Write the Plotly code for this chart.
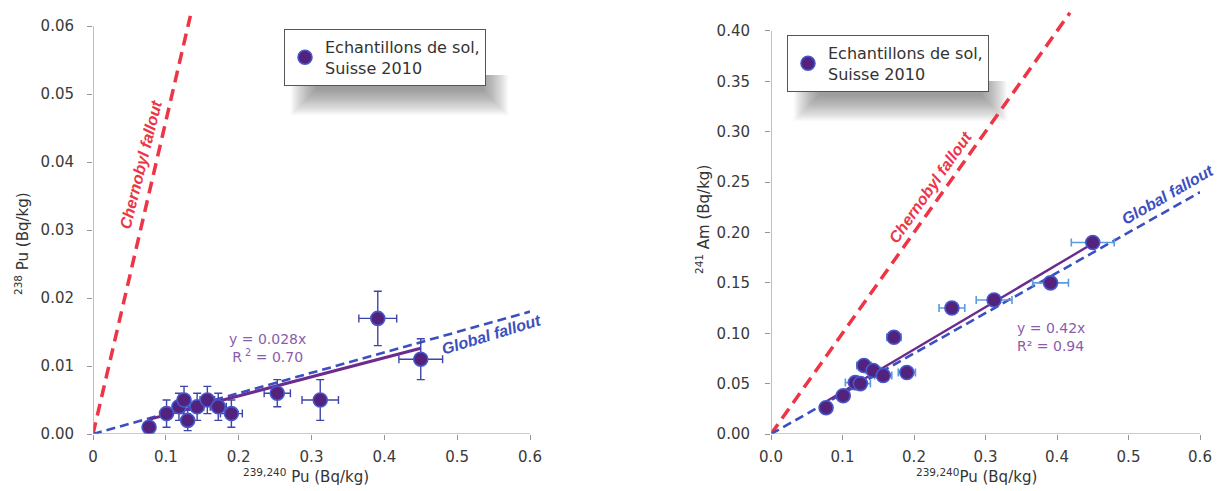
import plotly.graph_objects as go

# ---------------- data ----------------
pu239_240 = [0.077, 0.101, 0.118, 0.125, 0.130, 0.143, 0.157, 0.172, 0.190, 0.253, 0.312, 0.391, 0.450]
pu239_240_err_left = [0.004, 0.008, 0.008, 0.008, 0.008, 0.009, 0.010, 0.011, 0.015, 0.018, 0.025, 0.026, 0.030]
pu238 = [0.001, 0.003, 0.004, 0.005, 0.002, 0.004, 0.005, 0.004, 0.003, 0.006, 0.005, 0.017, 0.011]
pu238_err = [0.0004, 0.002, 0.002, 0.002, 0.0015, 0.002, 0.002, 0.002, 0.002, 0.002, 0.003, 0.004, 0.003]
am241 = [0.026, 0.038, 0.051, 0.050, 0.068, 0.063, 0.058, 0.096, 0.061, 0.125, 0.133, 0.150, 0.190]
pu239_240_err_right = [0.004, 0.008, 0.014, 0.014, 0.010, 0.010, 0.012, 0.010, 0.012, 0.018, 0.025, 0.025, 0.030]

fit_pu238_slope = 0.028
fit_am241_slope = 0.42
chernobyl_pu238_ratio = 0.46
global_pu238_ratio = 0.03
chernobyl_am241_ratio = 1.0
global_am241_ratio = 0.40

left_x_ticks = [0, 0.1, 0.2, 0.3, 0.4, 0.5, 0.6]
left_x_labels = ["0", "0.1", "0.2", "0.3", "0.4", "0.5", "0.6"]
right_x_labels = ["0.0", "0.1", "0.2", "0.3", "0.4", "0.5", "0.6"]
left_y_ticks = [0, 0.01, 0.02, 0.03, 0.04, 0.05, 0.06]
right_y_ticks = [0, 0.05, 0.10, 0.15, 0.20, 0.25, 0.30, 0.35, 0.40]

legend_text = "Echantillons de sol,<br>Suisse 2010"

# ---------------- styles ----------------
W, H = 1227, 491
RED = "#ee3546"
BLUE = "#3c4fc0"
FIT = "#6b2c8e"
EQ = "#8b5cae"
AXIS = "#a48ca0"
TICKF = dict(family="DejaVu Sans", size=15, color="#3a3a3a")
MARK = dict(size=14, color="#52227c", line=dict(color="#4659cc", width=1.6))

fig = go.Figure()

xmin, xmax = min(pu239_240), max(pu239_240)

# ---- left panel ----
cx = chernobyl_pu238_ratio
fig.add_trace(go.Scatter(x=[0, 0.0615 / cx], y=[0, 0.0615], mode="lines",
                         line=dict(color=RED, width=3.5, dash="12px,7px"),
                         showlegend=False, xaxis="x", yaxis="y", hoverinfo="skip"))
fig.add_trace(go.Scatter(x=[0, 0.6], y=[0, 0.6 * global_pu238_ratio], mode="lines",
                         line=dict(color=BLUE, width=2.6, dash="9px,5px"),
                         showlegend=False, xaxis="x", yaxis="y", hoverinfo="skip"))
fig.add_trace(go.Scatter(x=[xmin, xmax], y=[xmin * fit_pu238_slope, xmax * fit_pu238_slope], mode="lines",
                         line=dict(color=FIT, width=3), showlegend=False, xaxis="x", yaxis="y"))
fig.add_trace(go.Scatter(x=pu239_240, y=pu238, mode="markers", name=legend_text,
                         marker=MARK, legend="legend",
                         error_x=dict(type="data", array=pu239_240_err_left, color="#3f45a8", thickness=1.4, width=4),
                         error_y=dict(type="data", array=pu238_err, color="#3f45a8", thickness=1.4, width=4),
                         xaxis="x", yaxis="y"))

# ---- right panel ----
fig.add_trace(go.Scatter(x=[0, 0.418 / chernobyl_am241_ratio], y=[0, 0.418], mode="lines",
                         line=dict(color=RED, width=3.5, dash="12px,7px"),
                         showlegend=False, xaxis="x2", yaxis="y2", hoverinfo="skip"))
fig.add_trace(go.Scatter(x=[0, 0.6], y=[0, 0.6 * global_am241_ratio], mode="lines",
                         line=dict(color=BLUE, width=2.6, dash="9px,5px"),
                         showlegend=False, xaxis="x2", yaxis="y2", hoverinfo="skip"))
fig.add_trace(go.Scatter(x=[xmin, xmax], y=[xmin * fit_am241_slope, xmax * fit_am241_slope], mode="lines",
                         line=dict(color=FIT, width=2.4), showlegend=False, xaxis="x2", yaxis="y2"))
fig.add_trace(go.Scatter(x=pu239_240, y=am241, mode="markers", name=legend_text,
                         marker=MARK, legend="legend2",
                         error_x=dict(type="data", array=pu239_240_err_right, color="#5b9be0", thickness=1.6, width=4),
                         xaxis="x2", yaxis="y2"))

def px(xp):
    return xp / W

def py(yp):
    return 1 - yp / H

axis_common = dict(showgrid=False, zeroline=False, showline=False, ticks="outside", ticklen=5,
                   tickcolor=AXIS, tickwidth=1, tickfont=TICKF, automargin=False)

LEGF = dict(family="DejaVu Sans", size=16, color="#333")
fig.update_layout(
    width=W, height=H, margin=dict(l=0, r=0, t=0, b=0, autoexpand=False),
    paper_bgcolor="white", plot_bgcolor="rgba(0,0,0,0)",
    xaxis=dict(domain=[px(93), px(530)], range=[0, 0.6], tickvals=left_x_ticks, ticktext=left_x_labels,
               anchor="y", ticklabelstandoff=4, **axis_common),
    yaxis=dict(domain=[py(434), py(9)], range=[0, 0.0625], tickvals=left_y_ticks, tickformat=".2f",
               anchor="x", ticklabelstandoff=10, **axis_common),
    xaxis2=dict(domain=[px(771), px(1200)], range=[0, 0.6], tickvals=left_x_ticks, ticktext=right_x_labels,
                anchor="y2", ticklabelstandoff=4, **axis_common),
    yaxis2=dict(domain=[py(434), py(5.8)], range=[0, 0.425], tickvals=right_y_ticks, tickformat=".2f",
                anchor="x2", ticklabelstandoff=12, **axis_common),
    legend=dict(x=px(284), y=py(29), xanchor="left", yanchor="top", bgcolor="white",
                bordercolor="#555", borderwidth=1, font=LEGF),
    legend2=dict(x=px(787), y=py(35), xanchor="left", yanchor="top", bgcolor="white",
                 bordercolor="#555", borderwidth=1, font=LEGF),
)

shapes = []
# axis lines limited to tick extent
for xa, ya, xt, yt in [("x", "y", left_x_ticks, left_y_ticks), ("x2", "y2", left_x_ticks, right_y_ticks)]:
    shapes.append(dict(type="line", xref=xa, yref=ya, x0=0, x1=0, y0=0, y1=yt[-1],
                       line=dict(color=AXIS, width=1.2)))
    shapes.append(dict(type="line", xref=xa, yref=ya, x0=0, x1=xt[-1], y0=0, y1=0,
                       line=dict(color=AXIS, width=1.2)))

# soft drop shadows under the legend boxes
for (L, T, R, B) in [(284, 29, 487, 87), (787, 35, 986, 93)]:
    for k in range(24):
        g = k * 1.1
        shapes.append(dict(type="rect", xref="paper", yref="paper", layer="below",
                           x0=px(L + 32 - g), x1=px(R - 4 + g), y0=py(B - 12), y1=py(B + 3 + g),
                           fillcolor="rgba(60,60,60,0.026)", line=dict(width=0)))
fig.update_layout(shapes=shapes)

LBL = dict(family="Liberation Sans", size=16, color=RED)
BLBL = dict(family="Liberation Sans", size=16, color=BLUE)
TITF = dict(family="DejaVu Sans", size=15, color="#333")
C = dict(showarrow=False, xanchor="center", yanchor="middle")
annotations = [
    dict(xref="x", yref="y", x=0.066, y=0.0396, text="<b><i>Chernobyl fallout</i></b>", textangle=-76,
         font=LBL, **C),
    dict(xref="x", yref="y", x=0.547, y=0.0146, text="<b><i>Global fallout</i></b>", textangle=-17,
         font=BLBL, **C),
    dict(xref="x", yref="y", x=0.240, y=0.0126, text="y = 0.028x<br>R<sup> 2</sup> = 0.70",
         font=dict(family="DejaVu Sans", size=14, color=EQ), **C),
    dict(xref="x2", yref="y2", x=0.2224, y=0.245, text="<b><i>Chernobyl fallout</i></b>", textangle=-55,
         font=LBL, **C),
    dict(xref="x2", yref="y2", x=0.555, y=0.238, text="<b><i>Global fallout</i></b>", textangle=-30,
         font=BLBL, **C),
    dict(xref="x2", yref="y2", x=0.392, y=0.0962, text="y = 0.42x<br>R² = 0.94", align="left",
         font=dict(family="DejaVu Sans", size=14, color=EQ), **C),
    # axis titles
    dict(xref="paper", yref="paper", x=px(306), y=py(476), text="<sup>239,240</sup> Pu (Bq/kg)",
         font=TITF, **C),
    dict(xref="paper", yref="paper", x=px(977), y=py(476), text="<sup>239,240</sup>Pu (Bq/kg)",
         font=TITF, **C),
    dict(xref="paper", yref="paper", x=px(22), y=py(244), text="<sup>238</sup> Pu (Bq/kg)", textangle=-90,
         font=TITF, **C),
    dict(xref="paper", yref="paper", x=px(703), y=py(220), text="<sup>241</sup> Am (Bq/kg)", textangle=-90,
         font=TITF, **C),
]
fig.update_layout(annotations=annotations)

fig.write_html("out.html")
